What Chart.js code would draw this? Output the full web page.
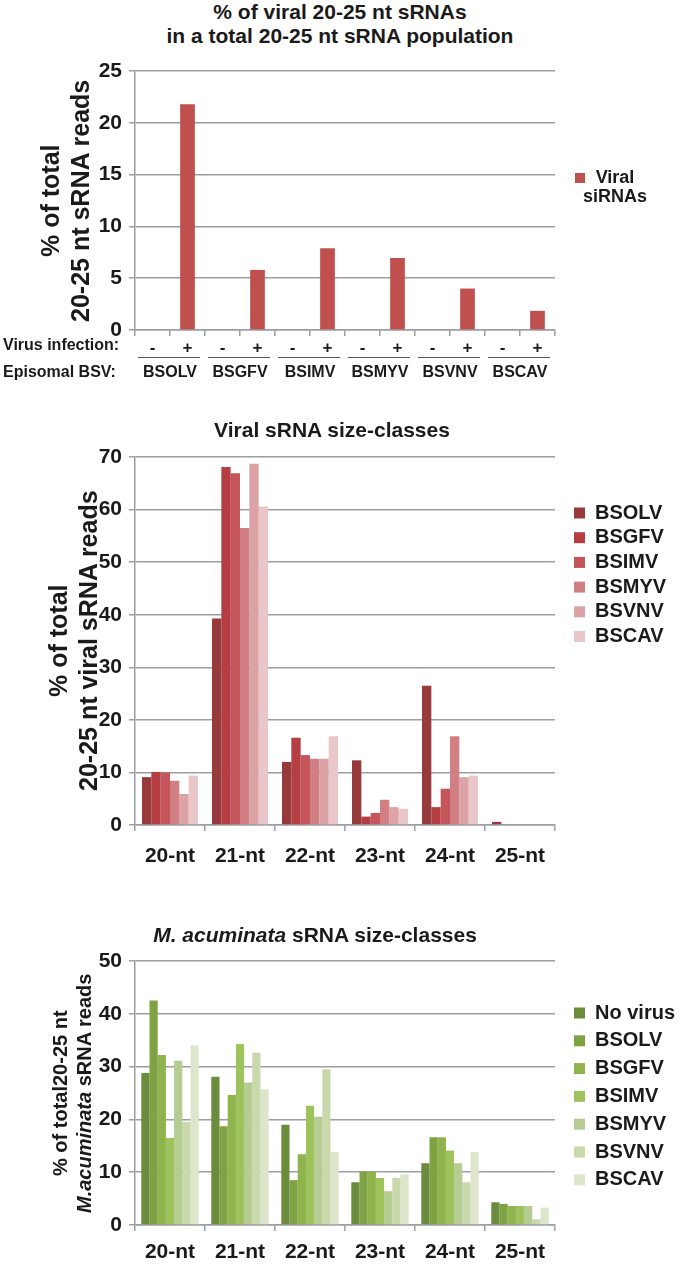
<!DOCTYPE html>
<html>
<head>
<meta charset="utf-8">
<script src="https://cdn.jsdelivr.net/npm/chart.js@4.4.1/dist/chart.umd.min.js"></script>
<style>
body{margin:0;background:#fff;}
#page{position:relative;width:680px;height:1265px;overflow:hidden;font-family:'Liberation Sans',Arial,sans-serif;color:#1a1a1a;}
.box{position:absolute;left:0;width:680px;}
.ttl{position:absolute;font-weight:bold;font-size:21px;line-height:24px;text-align:center;white-space:nowrap;transform:translateX(-50%);z-index:2;}
.ytl{position:absolute;writing-mode:vertical-rl;transform:rotate(180deg);text-align:center;font-weight:bold;white-space:nowrap;z-index:2;}
</style>
</head>
<body>
<div id="page">
  <div class="ttl" style="left:340px;top:0px">% of viral 20-25 nt sRNAs<br>in a total 20-25 nt sRNA population</div>
  <div class="ytl" style="left:35px;top:71px;height:259px;font-size:25px;line-height:30px">% of total<br>20-25 nt sRNA reads</div>
  <div class="box" style="top:50px;height:340px"><canvas id="c1"></canvas></div>

  <div class="ttl" style="left:332px;top:418px">Viral sRNA size-classes</div>
  <div class="ytl" style="left:43px;top:457px;height:368px;font-size:25px;line-height:30px">% of total<br>20-25 nt viral sRNA reads</div>
  <div class="box" style="top:420px;height:460px"><canvas id="c2"></canvas></div>

  <div class="ttl" style="left:315px;top:923px"><i>M. acuminata</i> sRNA size-classes</div>
  <div class="ytl" style="left:48px;top:961px;height:264px;font-size:20px;line-height:24px">% of total20-25 nt<br><i>M.acuminata</i> sRNA reads</div>
  <div class="box" style="top:930px;height:335px"><canvas id="c3"></canvas></div>
</div>
<script>
// chart 1 - viral share of all 20-25 nt sRNAs
const infection = ['-','+','-','+','-','+','-','+','-','+','-','+'];
const episomalBSV = ['BSOLV','BSGFV','BSIMV','BSMYV','BSVNV','BSCAV'];
const viralPct = [0,21.8, 0,5.8, 0,7.9, 0,6.95, 0,4.0, 0,1.85];

// chart 2 - viral sRNA size classes
const sizeClasses = ['20-nt','21-nt','22-nt','23-nt','24-nt','25-nt'];
const viralBSOLV = [9.1, 39.3, 12.0, 12.3, 26.5, 0.6];
const viralBSGFV = [10.1, 68.1, 16.6, 1.6, 3.4, 0];
const viralBSIMV = [10.0, 66.9, 13.3, 2.3, 6.9, 0];
const viralBSMYV = [8.4, 56.5, 12.6, 4.8, 16.9, 0];
const viralBSVNV = [5.9, 68.7, 12.6, 3.4, 9.1, 0];
const viralBSCAV = [9.4, 60.6, 16.9, 3.1, 9.4, 0];

// chart 3 - M. acuminata sRNA size classes
const musaNoVirus = [28.8, 28.1, 19.0, 8.1, 11.7, 4.3];
const musaBSOLV = [42.5, 18.7, 8.5, 10.1, 16.6, 4.0];
const musaBSGFV = [32.2, 24.6, 13.4, 10.1, 16.6, 3.6];
const musaBSIMV = [16.5, 34.3, 22.6, 8.9, 14.1, 3.6];
const musaBSMYV = [31.1, 27.0, 20.5, 6.4, 11.7, 3.6];
const musaBSVNV = [19.5, 32.6, 29.5, 8.9, 8.1, 1.1];
const musaBSCAV = [34.0, 25.7, 13.8, 9.6, 13.8, 3.3];

const reds = ['#963a3c','#b43e42','#c4555a','#d27f84','#dca3a6','#e9c6c8'];
const greens = ['#6b8c3c','#7fa342','#8fb34d','#9fc35c','#b5cc92','#c9d9ac','#dde6cb'];

Chart.defaults.font.family = "'Liberation Sans', Arial, sans-serif";
Chart.defaults.color = '#1a1a1a';
const gridCol = '#9c9ea5';
const txt = '#1a1a1a';

// legend drawn at the right of the plot
const sideLegend = {
  id: 'sideLegend',
  afterDraw(chart, args, o) {
    const ctx = chart.ctx, a = chart.chartArea;
    ctx.save();
    ctx.font = 'bold ' + o.size + 'px "Liberation Sans", Arial, sans-serif';
    ctx.textBaseline = 'middle';
    chart.data.datasets.forEach((ds, i) => {
      const y = a.top + o.top + i * o.gap;
      ctx.fillStyle = ds.backgroundColor;
      ctx.fillRect(o.x, y - o.box / 2, o.box, o.box);
      ctx.fillStyle = txt;
      if (o.wrap) {
        ctx.textAlign = 'center';
        ds.label.split(' ').forEach((w, j) => ctx.fillText(w, o.textX, y + j * o.lineGap));
      } else {
        ctx.textAlign = 'left';
        ctx.fillText(ds.label, o.x + o.box + 10, y);
      }
    });
    ctx.restore();
  }
};

// extra rows under chart 1
const bsvRows = {
  id: 'bsvRows',
  afterDraw(chart) {
    const ctx = chart.ctx, xs = chart.scales.x;
    const w = xs.width / infection.length;
    ctx.save();
    ctx.font = 'bold 16px "Liberation Sans", Arial, sans-serif';
    ctx.fillStyle = txt;
    ctx.textBaseline = 'middle';
    ctx.textAlign = 'left';
    ctx.fillText('Virus infection:', 3, xs.top + 16);
    ctx.fillText('Episomal BSV:', 3, xs.bottom + 21);
    ctx.strokeStyle = '#555';
    ctx.lineWidth = 1;
    ctx.textAlign = 'center';
    episomalBSV.forEach((name, g) => {
      const x0 = xs.getPixelForValue(2 * g) - w / 2;
      const x1 = xs.getPixelForValue(2 * g + 1) + w / 2;
      ctx.beginPath();
      ctx.moveTo(x0 + 3, xs.bottom + 5.5);
      ctx.lineTo(x1 - 5, xs.bottom + 5.5);
      ctx.stroke();
      ctx.fillText(name, (x0 + x1) / 2, xs.bottom + 21);
    });
    ctx.restore();
  }
};

function yScale(max, step) {
  return {
    min: 0, max: max,
    ticks: {stepSize: step, color: txt, font: {size: 21, weight: 'bold'}, padding: 7},
    grid: {color: gridCol, lineWidth: 1.5, tickLength: 6},
    border: {color: gridCol, width: 1.5},
    afterFit(s) { s.width = 135; }
  };
}
function xScale(size, pad, h) {
  return {
    grid: {drawOnChartArea: false, tickLength: 6, color: gridCol, lineWidth: 1.5},
    border: {color: gridCol, width: 1.5},
    ticks: {color: txt, font: {size: size, weight: 'bold'}, padding: pad, maxRotation: 0, autoSkip: false},
    afterFit(s) { s.height = h; }
  };
}

new Chart(document.getElementById('c1'), {
  type: 'bar',
  data: {
    labels: infection,
    datasets: [{label: 'Viral siRNAs', data: viralPct, backgroundColor: '#c0504d',
      categoryPercentage: 1, barPercentage: 0.42}]
  },
  options: {
    responsive: true, maintainAspectRatio: false, animation: false,
    layout: {padding: {left: 0, right: 125, top: 21, bottom: 38}},
    scales: {x: xScale(17, 2, 22), y: yScale(25, 5)},
    plugins: {
      legend: {display: false}, tooltip: {enabled: false},
      sideLegend: {x: 575, top: 107, gap: 0, box: 10, size: 18, wrap: true, textX: 615, lineGap: 19}
    }
  },
  plugins: [sideLegend, bsvRows]
});

const viralSeries = [viralBSOLV, viralBSGFV, viralBSIMV, viralBSMYV, viralBSVNV, viralBSCAV];
new Chart(document.getElementById('c2'), {
  type: 'bar',
  data: {
    labels: sizeClasses,
    datasets: viralSeries.map((d, i) => ({label: episomalBSV[i], data: d, backgroundColor: reds[i],
      categoryPercentage: 0.8, barPercentage: 1}))
  },
  options: {
    responsive: true, maintainAspectRatio: false, animation: false,
    layout: {padding: {left: 0, right: 125, top: 37, bottom: 10}},
    scales: {x: xScale(21, 13, 45), y: yScale(70, 10)},
    plugins: {
      legend: {display: false}, tooltip: {enabled: false},
      sideLegend: {x: 574, top: 56, gap: 24.7, box: 11, size: 20}
    }
  },
  plugins: [sideLegend]
});

const musaLabels = ['No virus'].concat(episomalBSV);
const musaSeries = [musaNoVirus, musaBSOLV, musaBSGFV, musaBSIMV, musaBSMYV, musaBSVNV, musaBSCAV];
new Chart(document.getElementById('c3'), {
  type: 'bar',
  data: {
    labels: sizeClasses,
    datasets: musaSeries.map((d, i) => ({label: musaLabels[i], data: d, backgroundColor: greens[i],
      categoryPercentage: 0.82, barPercentage: 1}))
  },
  options: {
    responsive: true, maintainAspectRatio: false, animation: false,
    layout: {padding: {left: 0, right: 125, top: 31, bottom: 0}},
    scales: {x: xScale(21, 9, 40), y: yScale(50, 10)},
    plugins: {
      legend: {display: false}, tooltip: {enabled: false},
      sideLegend: {x: 574, top: 52, gap: 27.8, box: 11, size: 20}
    }
  },
  plugins: [sideLegend]
});
</script>
</body>
</html>
